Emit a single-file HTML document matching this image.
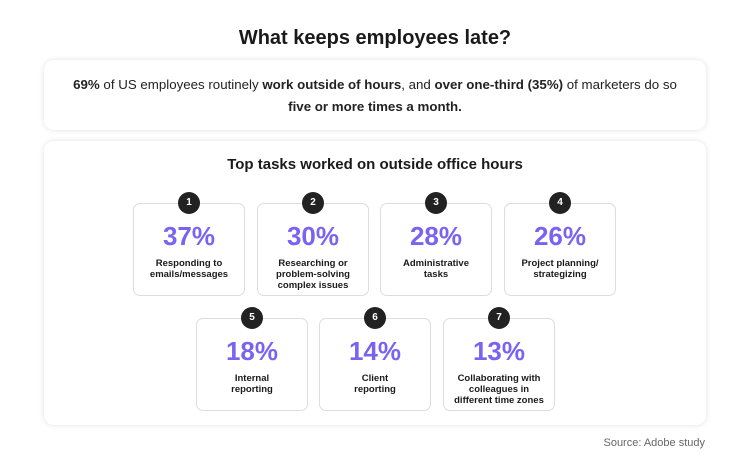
<!DOCTYPE html>
<html><head><style>
body{margin:0;width:750px;height:469px;background:#fff;font-family:"Liberation Sans",sans-serif;color:#1a1a1a;position:relative;overflow:hidden}
.t{position:absolute;left:0;width:750px;text-align:center;top:27px;font-size:20px;font-weight:bold}
.card{position:absolute;background:#fff;border-radius:10px;box-shadow:0 0 6px rgba(0,0,0,.12)}
.sub{text-align:center;font-size:13.3px;line-height:22px;padding-top:14px;color:#222}
.tile{position:absolute;width:110px;height:91px;border:1px solid #ddd;border-radius:7px;background:#fff;text-align:center}
.n{position:absolute;left:44px;top:-12px;width:22px;height:22px;border-radius:50%;background:#222;color:#fff;font-size:10px;font-weight:bold;line-height:22px}
.p{margin-top:17px;font-size:26px;font-weight:bold;color:#7b63f2;line-height:30px}
.l{font-size:9.5px;font-weight:bold;line-height:11px;margin-top:7px}
.src{position:absolute;right:45px;top:437px;font-size:11px;color:#666}
</style></head><body>
<div class="t">What keeps employees late?</div>
<div class="card" style="left:44px;top:60px;width:662px;height:70px"><div class="sub"><b>69%</b> of US employees routinely <b>work outside of hours</b>, and <b>over one-third (35%)</b> of marketers do so<br><b>five or more times a month.</b></div></div>
<div class="card" style="left:44px;top:141px;width:662px;height:284px">
<div style="text-align:center;font-size:15px;font-weight:bold;margin-top:15px">Top tasks worked on outside office hours</div>
</div>
<div class="tile" style="left:133px;top:203px"><div class="n">1</div><div class="p">37%</div><div class="l">Responding to<br>emails/messages</div></div>
<div class="tile" style="left:257px;top:203px"><div class="n">2</div><div class="p">30%</div><div class="l">Researching or<br>problem-solving<br>complex issues</div></div>
<div class="tile" style="left:380px;top:203px"><div class="n">3</div><div class="p">28%</div><div class="l">Administrative<br>tasks</div></div>
<div class="tile" style="left:504px;top:203px"><div class="n">4</div><div class="p">26%</div><div class="l">Project planning/<br>strategizing</div></div>
<div class="tile" style="left:196px;top:318px"><div class="n">5</div><div class="p">18%</div><div class="l">Internal<br>reporting</div></div>
<div class="tile" style="left:319px;top:318px"><div class="n">6</div><div class="p">14%</div><div class="l">Client<br>reporting</div></div>
<div class="tile" style="left:443px;top:318px"><div class="n">7</div><div class="p">13%</div><div class="l">Collaborating with<br>colleagues in<br>different time zones</div></div>
<div class="src">Source: Adobe study</div>
</body></html>
